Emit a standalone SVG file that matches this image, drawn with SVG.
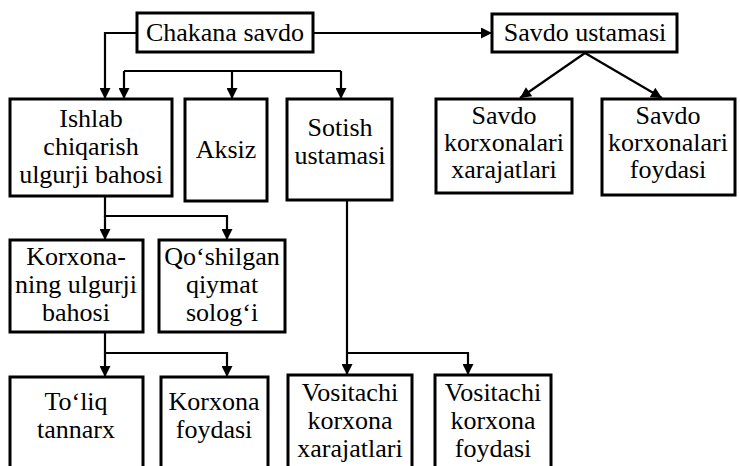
<svg xmlns="http://www.w3.org/2000/svg" width="740" height="466" viewBox="0 0 740 466">
<style>
.box{fill:#fff;stroke:#000;stroke-width:3}
.conn{fill:none;stroke:#000;stroke-width:2.2}
</style>
<defs>
<marker id="ah" viewBox="0 0 12 12" refX="12" refY="6" markerWidth="13" markerHeight="11" markerUnits="userSpaceOnUse" orient="auto">
<path d="M0,0 L12,6 L0,12 z" fill="#000"/>
</marker>
</defs>
<rect width="740" height="466" fill="#fff"/>
<g id="connectors">
<path class="conn" d="M137,33 H105 V99" marker-end="url(#ah)"/>
<path class="conn" d="M313,33 H492" marker-end="url(#ah)"/>
<path class="conn" d="M124,71 H341"/>
<path class="conn" d="M124,71 V99" marker-end="url(#ah)"/>
<path class="conn" d="M232,71 V99" marker-end="url(#ah)"/>
<path class="conn" d="M341,71 V99" marker-end="url(#ah)"/>
<path class="conn" d="M585,53 L520,98" marker-end="url(#ah)"/>
<path class="conn" d="M585,53 L662,98" marker-end="url(#ah)"/>
<path class="conn" d="M105,196 V216 H227 V240" marker-end="url(#ah)"/>
<path class="conn" d="M105,216 V240" marker-end="url(#ah)"/>
<path class="conn" d="M105,332 V353 H227 V377" marker-end="url(#ah)"/>
<path class="conn" d="M105,353 V377" marker-end="url(#ah)"/>
<path class="conn" d="M347,200 V375" marker-end="url(#ah)"/>
<path class="conn" d="M347,353 H468 V375" marker-end="url(#ah)"/>
</g>
<g id="chakana"><rect class="box" x="137" y="13" width="176" height="39"/><text font-family="Liberation Serif" font-size="26" text-anchor="middle" x="225" y="41">Chakana savdo</text></g>
<g id="savdo_ustamasi"><rect class="box" x="492" y="14" width="185" height="38"/><text font-family="Liberation Serif" font-size="26" text-anchor="middle" x="585" y="41">Savdo ustamasi</text></g>
<g id="ishlab"><rect class="box" x="10" y="99" width="162" height="97"/><text font-family="Liberation Serif" font-size="26" text-anchor="middle" x="91" y="127">Ishlab</text><text font-family="Liberation Serif" font-size="26" text-anchor="middle" x="91" y="155">chiqarish</text><text font-family="Liberation Serif" font-size="26" text-anchor="middle" x="91" y="183">ulgurji bahosi</text></g>
<g id="aksiz"><rect class="box" x="185" y="99" width="82" height="102"/><text font-family="Liberation Serif" font-size="26" text-anchor="middle" x="226" y="158">Aksiz</text></g>
<g id="sotish"><rect class="box" x="287" y="99" width="105" height="101"/><text font-family="Liberation Serif" font-size="26" text-anchor="middle" x="340" y="136">Sotish</text><text font-family="Liberation Serif" font-size="26" text-anchor="middle" x="340" y="164">ustamasi</text></g>
<g id="savdo_xarajat"><rect class="box" x="436" y="99" width="136" height="94"/><text font-family="Liberation Serif" font-size="26" text-anchor="middle" x="504" y="124">Savdo</text><text font-family="Liberation Serif" font-size="26" text-anchor="middle" x="504" y="151">korxonalari</text><text font-family="Liberation Serif" font-size="26" text-anchor="middle" x="504" y="178">xarajatlari</text></g>
<g id="savdo_foyda"><rect class="box" x="602" y="99" width="133" height="96"/><text font-family="Liberation Serif" font-size="26" text-anchor="middle" x="668" y="124">Savdo</text><text font-family="Liberation Serif" font-size="26" text-anchor="middle" x="668" y="151">korxonalari</text><text font-family="Liberation Serif" font-size="26" text-anchor="middle" x="668" y="178">foydasi</text></g>
<g id="korxonaning"><rect class="box" x="10" y="240" width="133" height="92"/><text font-family="Liberation Serif" font-size="26" text-anchor="middle" x="76" y="265">Korxona-</text><text font-family="Liberation Serif" font-size="26" text-anchor="middle" x="76" y="293">ning ulgurji</text><text font-family="Liberation Serif" font-size="26" text-anchor="middle" x="76" y="321">bahosi</text></g>
<g id="qoshilgan"><rect class="box" x="159" y="240" width="126" height="92"/><text font-family="Liberation Serif" font-size="26" text-anchor="middle" x="222" y="265">Qo&#8216;shilgan</text><text font-family="Liberation Serif" font-size="26" text-anchor="middle" x="222" y="293">qiymat</text><text font-family="Liberation Serif" font-size="26" text-anchor="middle" x="222" y="321">solog&#8216;i</text></g>
<g id="toliq"><rect class="box" x="10" y="377" width="133" height="95"/><text font-family="Liberation Serif" font-size="26" text-anchor="middle" x="76" y="410">To&#8216;liq</text><text font-family="Liberation Serif" font-size="26" text-anchor="middle" x="76" y="438">tannarx</text></g>
<g id="korxona_foyda"><rect class="box" x="161" y="377" width="107" height="95"/><text font-family="Liberation Serif" font-size="26" text-anchor="middle" x="214" y="410">Korxona</text><text font-family="Liberation Serif" font-size="26" text-anchor="middle" x="214" y="438">foydasi</text></g>
<g id="vositachi_xarajat"><rect class="box" x="288" y="375" width="124" height="97"/><text font-family="Liberation Serif" font-size="26" text-anchor="middle" x="350" y="401">Vositachi</text><text font-family="Liberation Serif" font-size="26" text-anchor="middle" x="350" y="429">korxona</text><text font-family="Liberation Serif" font-size="26" text-anchor="middle" x="350" y="457">xarajatlari</text></g>
<g id="vositachi_foyda"><rect class="box" x="435" y="375" width="116" height="97"/><text font-family="Liberation Serif" font-size="26" text-anchor="middle" x="493" y="401">Vositachi</text><text font-family="Liberation Serif" font-size="26" text-anchor="middle" x="493" y="429">korxona</text><text font-family="Liberation Serif" font-size="26" text-anchor="middle" x="493" y="457">foydasi</text></g>
</svg>
